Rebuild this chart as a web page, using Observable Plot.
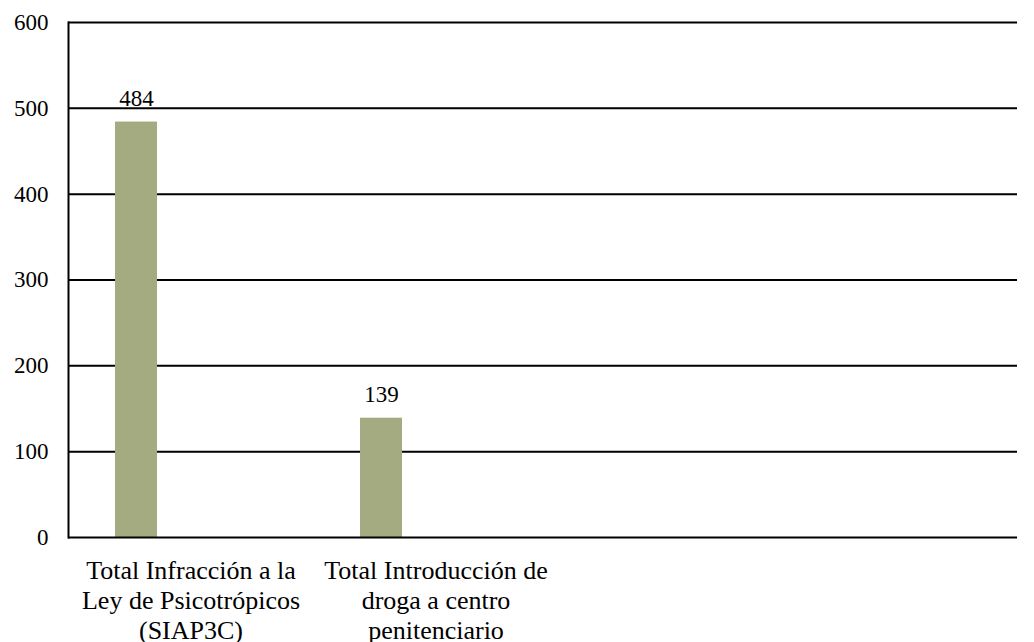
<!DOCTYPE html>
<html><head><meta charset="utf-8">
<script src="https://cdn.jsdelivr.net/npm/d3@7"></script>
<script src="https://cdn.jsdelivr.net/npm/@observablehq/plot@0.6"></script>
<style>body{margin:0;background:#fff}</style>
</head><body><div id="chart"></div>
<script>
const categories = ["Total Infracción a la Ley de Psicotrópicos (SIAP3C)", "Total Introducción de droga a centro penitenciario"];
const categoryLabels = ["Total Infracción a la\nLey de Psicotrópicos\n(SIAP3C)", "Total Introducción de\ndroga a centro\npenitenciario"];
const values = [484, 139];
const yTicks = [0, 100, 200, 300, 400, 500, 600];

const data = categories.map((c, i) => ({category: c, value: values[i]}));
const labelOf = new Map(categories.map((c, i) => [c, categoryLabels[i]]));

const font = "'Liberation Serif', 'Times New Roman', serif";
const chart = Plot.plot({
  width: 1034,
  height: 642,
  marginLeft: 68,
  marginRight: 17,
  marginTop: 22,
  marginBottom: 105,
  style: {fontFamily: font, background: "#fff", color: "#000"},
  x: {type: "band", domain: categories, range: [68, 558], padding: 0},
  y: {domain: [0, 600]},
  marks: [
    Plot.ruleY(yTicks.filter(d => d > 0), {stroke: "#000", strokeWidth: 2}),
    Plot.barY(data, {x: "category", y: "value", fill: "#a5ab81", insetLeft: 47, insetRight: 156}),
    Plot.text(data, {x: "category", y: "value", text: d => String(d.value), lineAnchor: "bottom", dx: -54.5, dy: -16.5, fontSize: 23, fill: "#000"}),
    Plot.ruleY([0], {stroke: "#000", strokeWidth: 2}),
    Plot.frame({anchor: "left", stroke: "#000", strokeWidth: 2}),
    Plot.axisY({ticks: yTicks, tickSize: 0, tickPadding: 20, fontSize: 23, label: null, tickFormat: d => String(d)}),
    Plot.axisX({tickSize: 0, tickPadding: 20, fontSize: 26, lineHeight: 1.15, label: null, tickFormat: d => labelOf.get(d)})
  ]
});
document.getElementById("chart").appendChild(chart);
</script>
</body></html>
